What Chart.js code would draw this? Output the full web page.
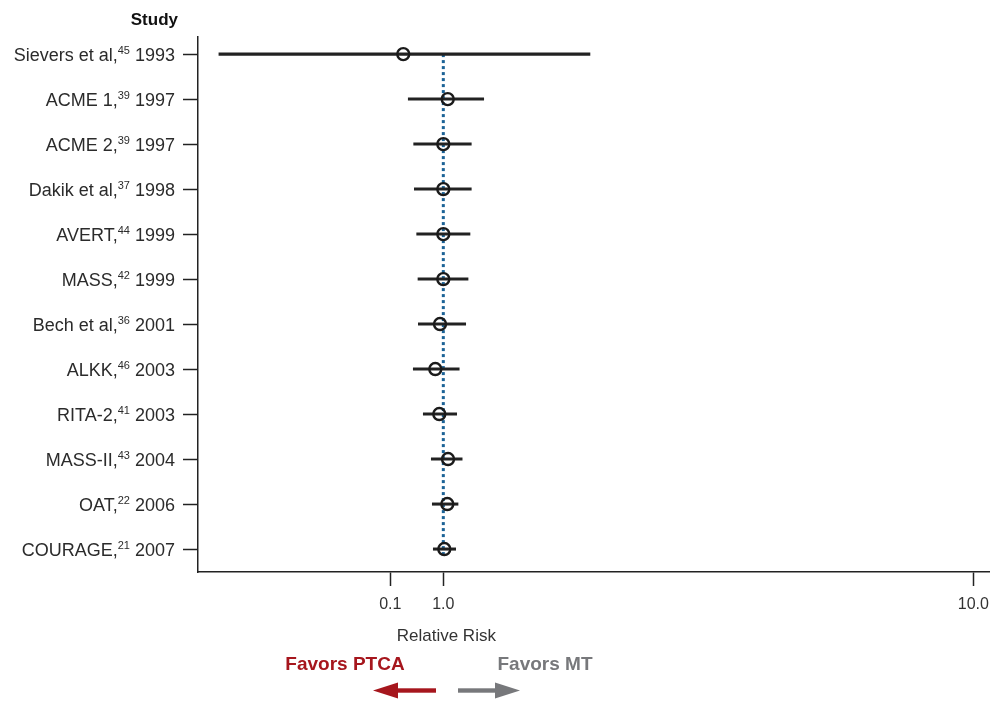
<!DOCTYPE html>
<html>
<head>
<meta charset="utf-8">
<script src="https://cdn.jsdelivr.net/npm/chart.js@4.4.1/dist/chart.umd.min.js"></script>
<style>
  html, body { margin: 0; padding: 0; background: #fff; }
  #chart { display: block; }
</style>
</head>
<body>
<canvas id="chart" width="1004" height="719"></canvas>
<script>
// Study labels (name, reference superscript, year)
const studies = ['Sievers et al,', 'ACME 1,', 'ACME 2,', 'Dakik et al,', 'AVERT,', 'MASS,',
                 'Bech et al,', 'ALKK,', 'RITA-2,', 'MASS-II,', 'OAT,', 'COURAGE,'];
const refs = ['45', '39', '39', '37', '44', '42', '36', '46', '41', '43', '22', '21'];
const years = ['1993', '1997', '1997', '1998', '1999', '1999', '2001', '2003', '2003', '2004', '2006', '2007'];

// Relative risk estimate and interval
const estimates = [0.32, 1.075, 1.0, 1.0, 1.0, 1.0, 0.944, 0.864, 0.932, 1.08, 1.068, 1.017];
const lower = [-2.81, 0.405, 0.497, 0.508, 0.548, 0.57, 0.576, 0.49, 0.66, 0.796, 0.813, 0.83];
const upper = [3.49, 1.686, 1.475, 1.475, 1.453, 1.42, 1.38, 1.27, 1.227, 1.32, 1.25, 1.21];

// x axis ticks
const xTicks = [0.1, 1.0, 10.0];
const xTickLabels = ['0.1', '1.0', '10.0'];

const FONT = '"Liberation Sans", Arial, Helvetica, sans-serif';

const labelPlugin = {
  id: 'labels',
  afterDraw(chart) {
    const { ctx, scales: { x, y } } = chart;
    ctx.save();
    ctx.textBaseline = 'alphabetic';
    ctx.textAlign = 'right';
    ctx.fillStyle = '#2b2b2b';

    // study labels with superscript refs
    studies.forEach((name, i) => {
      const base = y.getPixelForValue(i) + 7;
      let right = 175;
      const yr = ' ' + years[i];
      ctx.font = '18px ' + FONT;
      ctx.fillText(yr, right, base);
      right -= ctx.measureText(yr).width;
      ctx.font = '11px ' + FONT;
      ctx.fillText(refs[i], right, base - 7);
      right -= ctx.measureText(refs[i]).width;
      ctx.font = '18px ' + FONT;
      ctx.fillText(name, right, base);
    });

    // header
    ctx.font = 'bold 17px ' + FONT;
    ctx.fillStyle = '#111';
    ctx.fillText('Study', 178, 25);

    // axis title, under the 1.0 tick
    ctx.textAlign = 'center';
    ctx.font = '17px ' + FONT;
    ctx.fillStyle = '#333';
    ctx.fillText('Relative Risk', x.getPixelForValue(1) + 3, 641);

    // favors text
    ctx.font = 'bold 19px ' + FONT;
    ctx.fillStyle = '#a6161d';
    ctx.fillText('Favors PTCA', 345, 670);
    ctx.fillStyle = '#77787b';
    ctx.fillText('Favors MT', 545, 670);

    // arrows
    const ay = 690.5;
    ctx.fillStyle = '#a6161d';
    ctx.fillRect(396, ay - 2.2, 40, 4.4);
    ctx.beginPath();
    ctx.moveTo(373, ay);
    ctx.lineTo(398, ay - 8);
    ctx.lineTo(398, ay + 8);
    ctx.closePath();
    ctx.fill();

    ctx.fillStyle = '#77787b';
    ctx.fillRect(458, ay - 2.2, 39, 4.4);
    ctx.beginPath();
    ctx.moveTo(520, ay);
    ctx.lineTo(495, ay - 8);
    ctx.lineTo(495, ay + 8);
    ctx.closePath();
    ctx.fill();

    ctx.restore();
  }
};

const ctx = document.getElementById('chart').getContext('2d');
const chart = new Chart(ctx, {
  type: 'bar',
  data: {
    datasets: [
      {
        // reference line at RR = 1
        type: 'line',
        data: [{ x: 1, y: 0 }, { x: 1, y: 11.2 }],
        borderColor: '#1b6296',
        borderWidth: 3,
        borderDash: [3, 3],
        pointRadius: 0,
        order: 3
      },
      {
        // confidence intervals as floating bars
        type: 'bar',
        indexAxis: 'y',
        data: studies.map((s, i) => ({ y: i, x: [lower[i], upper[i]] })),
        backgroundColor: '#222',
        borderWidth: 0,
        barThickness: 2.4,
        order: 2
      },
      {
        // point estimates
        type: 'line',
        showLine: false,
        data: estimates.map((v, i) => ({ x: v, y: i })),
        pointRadius: 6,
        pointBorderWidth: 2.4,
        pointBorderColor: '#1a1a1a',
        pointBackgroundColor: 'rgba(0,0,0,0)',
        order: 1
      }
    ]
  },
  options: {
    responsive: false,
    animation: false,
    layout: { padding: { top: 37, right: 15, bottom: 74, left: 0 } },
    plugins: {
      legend: { display: false },
      tooltip: { enabled: false }
    },
    scales: {
      x: {
        type: 'linear',
        offset: false,
        min: -3.165,
        max: 10.265,
        afterBuildTicks: s => { s.ticks = xTicks.map(v => ({ value: v })); },
        afterFit: s => { s.height = 73; },
        ticks: {
          callback: (v, i) => xTickLabels[i],
          font: { size: 16, family: FONT },
          color: '#333',
          padding: 9,
          autoSkip: false,
          maxRotation: 0
        },
        grid: { offset: false, drawOnChartArea: false, drawTicks: true, tickLength: 14, tickColor: '#222', tickWidth: 1.5 },
        border: { color: '#222', width: 1.5 }
      },
      y: {
        type: 'linear',
        offset: false,
        reverse: true,
        min: -0.38,
        max: 11.51,
        afterBuildTicks: s => { s.ticks = studies.map((_, i) => ({ value: i })); },
        afterFit: s => { s.width = 198; },
        ticks: { callback: () => '' },
        grid: { offset: false, drawOnChartArea: false, drawTicks: true, tickLength: 15, tickColor: '#222', tickWidth: 1.5 },
        border: { color: '#222', width: 1.5 }
      }
    }
  },
  plugins: [labelPlugin]
});
</script>
</body>
</html>
